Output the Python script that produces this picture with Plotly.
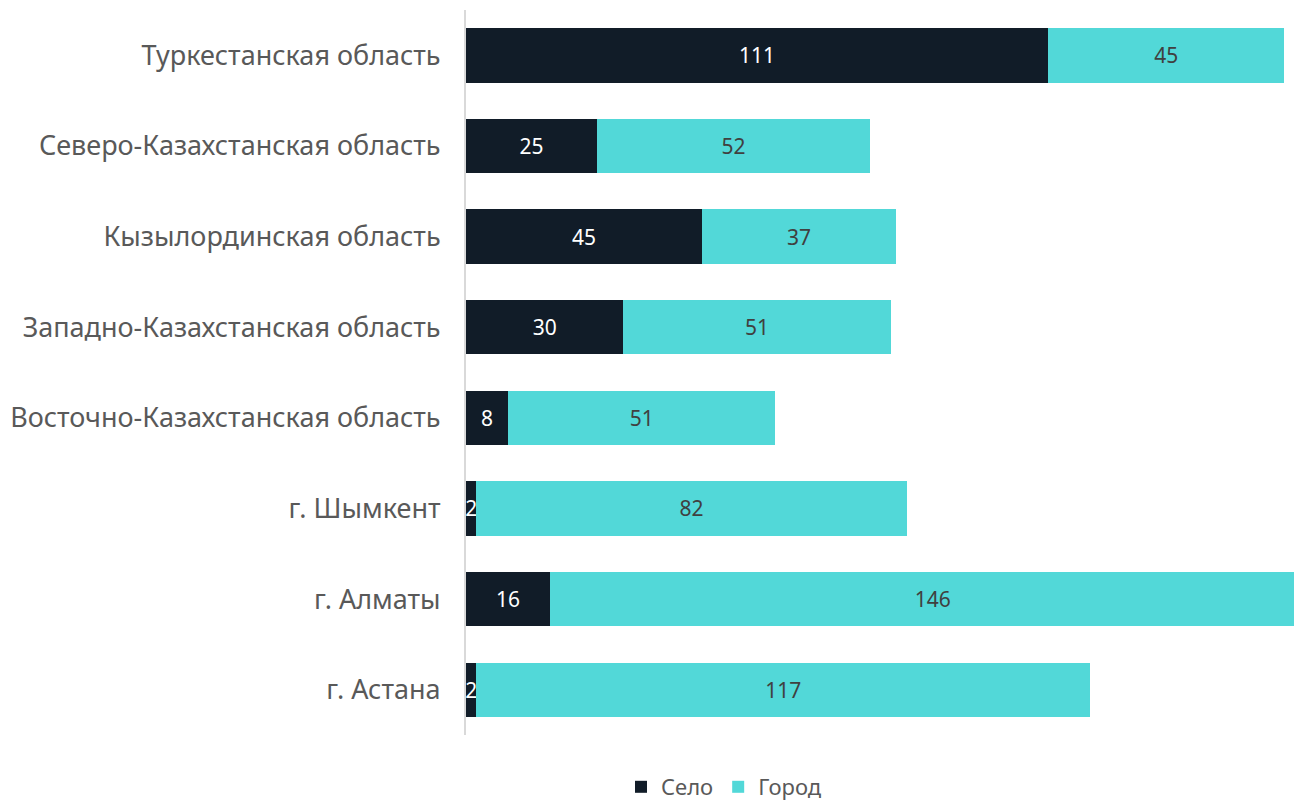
import plotly.graph_objects as go

# categories listed bottom-to-top (plotly draws the first category at the bottom)
regions = [
    "г. Астана",
    "г. Алматы",
    "г. Шымкент",
    "Восточно-Казахстанская область",
    "Западно-Казахстанская область",
    "Кызылординская область",
    "Северо-Казахстанская область",
    "Туркестанская область",
]
selo = [2, 16, 2, 8, 30, 45, 25, 111]
gorod = [117, 146, 82, 51, 51, 37, 52, 45]

FONT = "Noto Sans"

fig = go.Figure()
fig.add_trace(go.Bar(
    y=regions, x=selo, orientation="h", name="Село",
    marker=dict(color="#111c28", line=dict(width=0)),
    text=selo, textposition="inside", insidetextanchor="middle",
    textfont=dict(color="#ffffff", size=21, family=FONT),
))
fig.add_trace(go.Bar(
    y=regions, x=gorod, orientation="h", name="Город",
    marker=dict(color="#52d8d8", line=dict(width=0)),
    text=gorod, textposition="inside", insidetextanchor="middle",
    textfont=dict(color="#404040", size=21, family=FONT),
))

# the page body adds an 8px margin, so margins are trimmed by that amount
fig.update_layout(
    barmode="stack",
    bargap=0.4,
    width=1294, height=800,
    margin=dict(l=458, r=0, t=2, b=72),
    paper_bgcolor="white", plot_bgcolor="white",
    font=dict(family=FONT, color="#595959", size=27),
    uniformtext=dict(minsize=21, mode="show"),
    legend=dict(
        orientation="h", xref="paper", yref="paper",
        x=0.1854, y=-0.0716, xanchor="left", yanchor="middle",
        font=dict(size=22, color="#595959"),
        itemwidth=30, traceorder="normal",
    ),
)
fig.update_xaxes(range=[0, 159.4], showgrid=False, zeroline=False,
                 showticklabels=False, showline=False)
fig.update_yaxes(showgrid=False, showline=True, linecolor="#d9d9d9", linewidth=2,
                 ticks="", ticklabelstandoff=18, automargin=False,
                 tickfont=dict(size=27, color="#595959"))

fig.write_html("out.html")
